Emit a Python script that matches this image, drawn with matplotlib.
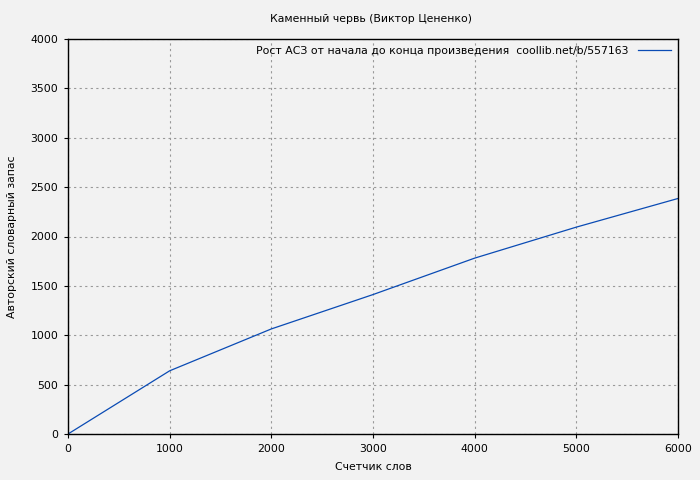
import matplotlib
matplotlib.use('Agg')
import matplotlib.pyplot as plt

# word counter vs author's vocabulary
words = [0, 1000, 2000, 3000, 4000, 5000, 6000]
vocab = [0, 640, 1064, 1412, 1781, 2095, 2385]

x_ticks = [0, 1000, 2000, 3000, 4000, 5000, 6000]
y_ticks = [0, 500, 1000, 1500, 2000, 2500, 3000, 3500, 4000]

BG = '#f2f2f2'
LINE = '#0a4bb4'

plt.rcParams['font.family'] = ['DejaVu Sans']
plt.rcParams['font.size'] = 7.8

fig = plt.figure(figsize=(7, 4.8), dpi=100, facecolor=BG)
ax = fig.add_axes([68 / 700, 46 / 480, 610 / 700, 395 / 480], facecolor=BG)

ax.plot(words, vocab, color=LINE, linewidth=0.9,
        label='Рост АСЗ от начала до конца произведения  coollib.net/b/557163')

ax.set_xlim(0, 6000)
ax.set_ylim(0, 4000)
ax.set_xticks(x_ticks)
ax.set_yticks(y_ticks)
ax.grid(True, color='#999999', linestyle=(0, (2, 3)), linewidth=0.8)
ax.tick_params(direction='out', length=3, width=0.8, colors='black', pad=4)
for s in ax.spines.values():
    s.set_linewidth(1.0)

ax.set_xlabel('Счетчик слов', labelpad=6)
ax.set_ylabel('Авторский словарный запас', labelpad=10)
fig.text(0.53, 0.96, 'Каменный червь (Виктор Цененко)', ha='center', va='center')

leg = ax.legend(loc='upper right', frameon=False, handlelength=3.0,
                handletextpad=0.9, borderaxespad=0.25, markerfirst=False)

fig.savefig('out.png', dpi=100, facecolor=BG)
